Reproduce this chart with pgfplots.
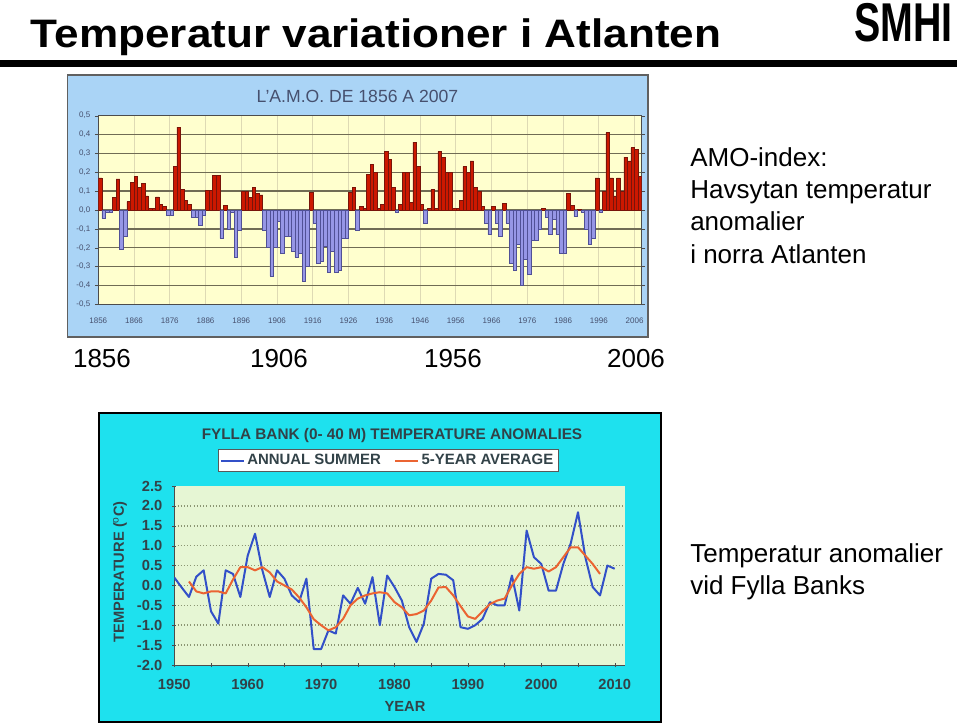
\documentclass[border=0pt]{standalone}
\usepackage{pgfplots}
\pgfplotsset{compat=1.18}
\usepackage{pgfplotstable}
\usepackage{fontspec}
\setmainfont{Liberation Sans}

\definecolor{amoframe}{RGB}{170,212,246}
\definecolor{amoyellow}{RGB}{255,255,206}
\definecolor{amored}{RGB}{204,24,0}
\definecolor{amoredd}{RGB}{120,20,10}
\definecolor{amoblue}{RGB}{150,150,230}
\definecolor{amoblued}{RGB}{80,80,150}
\definecolor{amogrid}{RGB}{112,108,84}
\definecolor{amovgrid}{RGB}{222,218,180}
\definecolor{amotext}{RGB}{70,80,110}
\definecolor{fyllacyan}{RGB}{30,225,238}
\definecolor{fyllagreen}{RGB}{230,246,212}
\definecolor{fyllatext}{RGB}{50,66,72}
\definecolor{fyllablue}{RGB}{50,80,200}
\definecolor{fyllared}{RGB}{235,100,50}
\definecolor{fyllagrid}{RGB}{140,150,115}

\pgfplotstableread[row sep=\\]{
year v\\
1856 0.17\\ 1857 -0.045\\ 1858 -0.01\\ 1859 -0.01\\ 1860 0.065\\ 1861 0.165\\ 1862 -0.21\\ 1863 -0.14\\ 1864 0.045\\ 1865 0.145\\
1866 0.18\\ 1867 0.12\\ 1868 0.14\\ 1869 0.075\\ 1870 0.01\\ 1871 0.01\\ 1872 0.07\\ 1873 0.03\\ 1874 0.02\\ 1875 -0.03\\
1876 -0.03\\ 1877 0.23\\ 1878 0.44\\ 1879 0.11\\ 1880 0.05\\ 1881 0.03\\ 1882 -0.04\\ 1883 -0.04\\ 1884 -0.08\\ 1885 -0.03\\
1886 0.105\\ 1887 0.105\\ 1888 0.185\\ 1889 0.185\\ 1890 -0.15\\ 1891 0.025\\ 1892 -0.10\\ 1893 -0.01\\ 1894 -0.25\\ 1895 -0.11\\
1896 0.10\\ 1897 0.10\\ 1898 0.065\\ 1899 0.12\\ 1900 0.09\\ 1901 0.08\\ 1902 -0.11\\ 1903 -0.20\\ 1904 -0.35\\ 1905 -0.20\\
1906 -0.06\\ 1907 -0.23\\ 1908 -0.14\\ 1909 -0.14\\ 1910 -0.22\\ 1911 -0.25\\ 1912 -0.23\\ 1913 -0.38\\ 1914 -0.30\\ 1915 0.095\\
1916 -0.07\\ 1917 -0.28\\ 1918 -0.27\\ 1919 -0.19\\ 1920 -0.33\\ 1921 -0.22\\ 1922 -0.33\\ 1923 -0.32\\ 1924 -0.15\\ 1925 -0.15\\
1926 0.095\\ 1927 0.12\\ 1928 -0.11\\ 1929 0.02\\ 1930 0.01\\ 1931 0.19\\ 1932 0.24\\ 1933 0.20\\ 1934 0.01\\ 1935 0.03\\
1936 0.31\\ 1937 0.27\\ 1938 0.12\\ 1939 -0.01\\ 1940 0.03\\ 1941 0.20\\ 1942 0.20\\ 1943 0.04\\ 1944 0.36\\ 1945 0.23\\
1946 0.03\\ 1947 -0.07\\ 1948 0.01\\ 1949 0.11\\ 1950 0.01\\ 1951 0.31\\ 1952 0.28\\ 1953 0.20\\ 1954 0.20\\ 1955 0.01\\
1956 0.01\\ 1957 0.05\\ 1958 0.23\\ 1959 0.20\\ 1960 0.26\\ 1961 0.12\\ 1962 0.10\\ 1963 0.02\\ 1964 -0.07\\ 1965 -0.13\\
1966 0.02\\ 1967 -0.07\\ 1968 -0.14\\ 1969 0.035\\ 1970 -0.07\\ 1971 -0.28\\ 1972 -0.32\\ 1973 -0.18\\ 1974 -0.40\\ 1975 -0.26\\
1976 -0.34\\ 1977 -0.16\\ 1978 -0.16\\ 1979 -0.10\\ 1980 0.01\\ 1981 -0.04\\ 1982 -0.13\\ 1983 -0.05\\ 1984 -0.13\\ 1985 -0.23\\
1986 -0.23\\ 1987 0.09\\ 1988 0.025\\ 1989 -0.035\\ 1990 0.005\\ 1991 -0.01\\ 1992 -0.10\\ 1993 -0.18\\ 1994 -0.15\\ 1995 0.17\\
1996 -0.01\\ 1997 0.10\\ 1998 0.41\\ 1999 0.17\\ 2000 0.075\\ 2001 0.17\\ 2002 0.10\\ 2003 0.28\\ 2004 0.26\\ 2005 0.33\\
2006 0.32\\ 2007 0.18\\
}\amodata

\pgfplotstableread[row sep=\\]{
year t\\
1950 0.20\\ 1951 -0.05\\ 1952 -0.29\\ 1953 0.22\\ 1954 0.38\\ 1955 -0.65\\ 1956 -0.96\\ 1957 0.38\\ 1958 0.29\\ 1959 -0.29\\
1960 0.75\\ 1961 1.30\\ 1962 0.38\\ 1963 -0.29\\ 1964 0.38\\ 1965 0.17\\ 1966 -0.25\\ 1967 -0.42\\ 1968 0.17\\ 1969 -1.60\\
1970 -1.60\\ 1971 -1.13\\ 1972 -1.21\\ 1973 -0.25\\ 1974 -0.46\\ 1975 -0.06\\ 1976 -0.46\\ 1977 0.21\\ 1978 -1.00\\ 1979 0.25\\
1980 -0.04\\ 1981 -0.38\\ 1982 -1.05\\ 1983 -1.42\\ 1984 -0.96\\ 1985 0.17\\ 1986 0.29\\ 1987 0.27\\ 1988 0.13\\ 1989 -1.05\\
1990 -1.09\\ 1991 -1.00\\ 1992 -0.84\\ 1993 -0.42\\ 1994 -0.50\\ 1995 -0.50\\ 1996 0.25\\ 1997 -0.63\\ 1998 1.38\\ 1999 0.71\\
2000 0.54\\ 2001 -0.13\\ 2002 -0.13\\ 2003 0.54\\ 2004 1.05\\ 2005 1.84\\ 2006 0.71\\ 2007 -0.04\\ 2008 -0.25\\ 2009 0.50\\
2010 0.42\\
}\fyllaannual

\pgfplotstableread[row sep=\\]{
year t\\
1952 0.10\\ 1953 -0.15\\ 1954 -0.20\\ 1955 -0.15\\ 1956 -0.15\\ 1957 -0.20\\ 1958 0.15\\ 1959 0.46\\
1960 0.46\\ 1961 0.38\\ 1962 0.46\\ 1963 0.33\\ 1964 0.10\\ 1965 0.00\\ 1966 -0.10\\ 1967 -0.30\\ 1968 -0.55\\ 1969 -0.85\\
1970 -1.00\\ 1971 -1.13\\ 1972 -1.05\\ 1973 -0.84\\ 1974 -0.50\\ 1975 -0.33\\ 1976 -0.25\\ 1977 -0.20\\ 1978 -0.17\\ 1979 -0.20\\
1980 -0.42\\ 1981 -0.55\\ 1982 -0.75\\ 1983 -0.72\\ 1984 -0.63\\ 1985 -0.38\\ 1986 -0.05\\ 1987 -0.04\\ 1988 -0.25\\ 1989 -0.52\\
1990 -0.78\\ 1991 -0.84\\ 1992 -0.65\\ 1993 -0.47\\ 1994 -0.38\\ 1995 -0.33\\ 1996 0.00\\ 1997 0.29\\ 1998 0.46\\ 1999 0.42\\
2000 0.46\\ 2001 0.35\\ 2002 0.46\\ 2003 0.71\\ 2004 0.96\\ 2005 0.96\\ 2006 0.75\\ 2007 0.54\\ 2008 0.29\\
}\fyllaavg

\begin{document}
\begin{tikzpicture}
\begin{scope}[x=0.75pt,y=-0.75pt]
\path[use as bounding box, fill=white] (0,0) rectangle (960,727);
% title and logo
\node[anchor=base west, inner sep=0, font=\fontsize{29.8}{30}\selectfont\bfseries] at (30.7,47.7) {\scalebox{1.11}[1]{Temperatur variationer i Atlanten}};
\node[anchor=base east, inner sep=0, font=\fontsize{41}{41}\selectfont\bfseries] at (953,41.5) {\scalebox{0.72}[1]{SMHI}};
\fill[black] (0,60.5) rectangle (957,67.5);
% AMO frame
\filldraw[fill=amoframe, draw=gray!75!black, line width=1pt] (67.5,75) rectangle (648,337);
\node[font=\fontsize{13.2}{14}\selectfont, text=amotext] at (357.5,96) {L'A.M.O. DE 1856 A 2007};
% right texts
\begin{scope}[every node/.style={anchor=base west, inner sep=0, font=\fontsize{19.5}{24}\selectfont}]
\node at (690,167) {AMO-index:};
\node at (690,199) {Havsytan temperatur};
\node at (690,231) {anomalier};
\node at (690,264) {i norra Atlanten};
\node at (690,562) {Temperatur anomalier};
\node at (690,594) {vid Fylla Banks};
\end{scope}
\begin{scope}[every node/.style={anchor=base, inner sep=0, font=\fontsize{19.5}{24}\selectfont}]
\node at (102,367) {1856};
\node at (279,367) {1906};
\node at (453,367) {1956};
\node at (636,367) {2006};
\end{scope}
% Fylla frame
\filldraw[fill=fyllacyan, draw=black, line width=2.2pt] (99,413) rectangle (661,722);
\node[font=\fontsize{11.5}{12}\selectfont\bfseries, text=fyllatext] at (392,436) {FYLLA BANK (0- 40 M) TEMPERATURE ANOMALIES};
\end{scope}

% AMO chart
\begin{axis}[
  at={(73.725pt,-228.225pt)}, anchor=south west,
  scale only axis, width=407.55pt, height=141.45pt,
  xmin=1855.5, xmax=2007.5, ymin=-0.5, ymax=0.5,
  axis background/.style={fill=amoyellow},
  xtick={1855.5,1865.5,...,2005.5},
  xticklabels={1856,1866,1876,1886,1896,1906,1916,1926,1936,1946,1956,1966,1976,1986,1996,2006},
  ytick={-0.5,-0.4,-0.3,-0.2,-0.1,0,0.1,0.2,0.3,0.4,0.5},
  yticklabel style={/pgf/number format/.cd, fixed, fixed zerofill, precision=1, use comma},
  /pgf/number format/assume math mode=true,
  ticklabel style={font=\fontsize{6}{7}\selectfont, text=amotext},
  xticklabel style={yshift=-4pt},
  xmajorgrids, ymajorgrids,
  x grid style={amovgrid, line width=0.6pt},
  y grid style={amogrid, line width=1.1pt},
  axis line style={gray!60!black, line width=0.8pt},
  tick style={gray!60!black},
  tick align=outside, major tick length=2.5pt,
  xtick style={draw=none},
]
\addplot[ybar, bar width=1, bar shift=0pt, fill=amored, draw=amoredd, line width=0.4pt, restrict y to domain=0:1] table[x=year,y=v]{\amodata};
\addplot[ybar, bar width=1, bar shift=0pt, fill=amoblue, draw=amoblued, line width=0.4pt, restrict y to domain=-1:0] table[x=year,y=v]{\amodata};
\end{axis}

% Fylla chart
\begin{axis}[
  at={(130.725pt,-498.75pt)}, anchor=south west,
  scale only axis, width=338pt, height=134.25pt,
  xmin=1950, xmax=2011.4, ymin=-2, ymax=2.5,
  axis background/.style={fill=fyllagreen},
  axis x line*=bottom, axis y line*=left,
  axis line style={gray!60!black, line width=0.6pt},
  xtick={1950,1960,...,2010},
  minor x tick num=1,
  ytick={-2,-1.5,...,2.5},
  minor ytick={-1.5,-1,...,2},
  yminorgrids,
  minor y grid style={fyllagrid, dotted, line width=1.2pt},
  minor y tick style={draw=none},
  tick align=center, major tick length=3pt, minor tick length=3pt,
  tick style={gray!60!black},
  xticklabel style={yshift=-6pt, /pgf/number format/1000 sep={}},
  yticklabel style={xshift=-4pt, /pgf/number format/.cd, fixed, fixed zerofill, precision=1},
  /pgf/number format/assume math mode=true,
  ticklabel style={font=\fontsize{11}{12}\selectfont\bfseries, text=fyllatext},
  xlabel={YEAR}, ylabel={TEMPERATURE ($^{\mathrm{o}}$C)},
  xlabel style={at={(axis description cs:0.512,-0.229)}, anchor=center, font=\fontsize{11}{12}\selectfont\bfseries, text=fyllatext},
  ylabel style={at={(axis description cs:-0.1205,0.52)}, anchor=center, font=\fontsize{11}{12}\selectfont\bfseries, text=fyllatext},
  legend style={at={(0.474,1.142)}, anchor=center, legend columns=2, fill=white, draw=gray!70!black,
    font=\fontsize{11.2}{12}\selectfont\bfseries, text=fyllatext, inner sep=1.5pt,
    /tikz/every even column/.append style={column sep=8pt}},
  legend cell align=left,
]
\addplot[fyllablue, line width=1.5pt, line join=round] table[x=year,y=t]{\fyllaannual};
\addlegendentry{ANNUAL SUMMER}
\addplot[fyllared, line width=1.5pt, line join=round] table[x=year,y=t]{\fyllaavg};
\addlegendentry{5-YEAR AVERAGE}
\end{axis}
\end{tikzpicture}
\end{document}
